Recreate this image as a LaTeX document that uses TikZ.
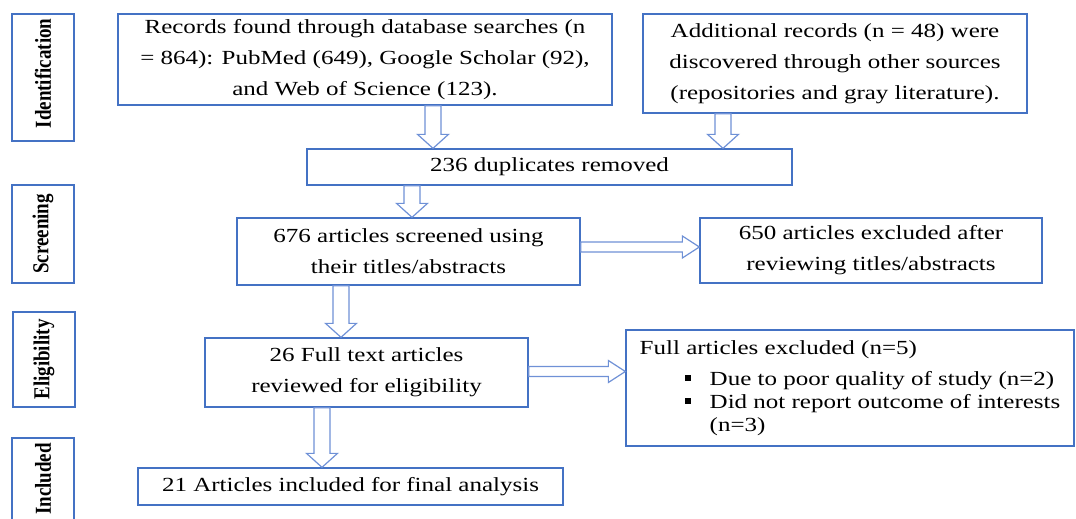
\documentclass[tikz,border=0pt]{standalone}
\usepackage{graphicx}
\usepackage{fontspec}
\setmainfont{Liberation Serif}[FakeStretch=1.25]
\newfontfamily\stagefont{Liberation Serif}
\usetikzlibrary{calc}
\definecolor{boxblue}{RGB}{68,114,196}
\definecolor{arrowblue}{RGB}{111,145,214}
\newcommand{\bul}{\rule[4pt]{6pt}{6pt}}
\tikzset{
  box/.style={draw=boxblue, line width=1.3pt, inner sep=0pt, align=center,
    font=\fontsize{20}{31}\selectfont},
  stage/.style={draw=boxblue, line width=1.3pt, inner sep=0pt, rotate=90,
    font=\stagefont\bfseries\fontsize{19}{19}\selectfont},
  blockarrow/.style n args={3}{draw=arrowblue, line width=1.2pt, to path={
    ($(\tikztostart)!#1!90:(\tikztotarget)$) --
    ($($(\tikztotarget)!#3!(\tikztostart)$)!#1!90:(\tikztotarget)$) --
    ($($(\tikztotarget)!#3!(\tikztostart)$)!#2!90:(\tikztotarget)$) --
    (\tikztotarget) --
    ($($(\tikztotarget)!#3!(\tikztostart)$)!#2!-90:(\tikztotarget)$) --
    ($($(\tikztotarget)!#3!(\tikztostart)$)!#1!-90:(\tikztotarget)$) --
    ($(\tikztostart)!#1!-90:(\tikztotarget)$) -- cycle}},
  vfat/.style={blockarrow={8pt}{15.5pt}{14pt}},
  hfat/.style={blockarrow={5pt}{11pt}{17pt}},
}
\begin{document}
\begin{tikzpicture}[x=1pt, y=-1pt]
  \useasboundingbox (0,0) rectangle (1076,519);
  % stage labels
  \node[stage, minimum width=127pt, minimum height=62pt] (ident) at (43,77.5) {\hspace{8pt}\scalebox{1}[1.2]{Identification}};
  \node[stage, minimum width=98pt, minimum height=62pt] (screen) at (43,234) {\scalebox{1}[1.2]{Screening}};
  \node[stage, minimum width=95pt, minimum height=62pt] (elig) at (44,359.5) {\scalebox{1}[1.2]{Eligibility}};
  \node[stage, minimum width=82pt, minimum height=62pt] (incd) at (43,479) {\scalebox{1}[1.2]{Included}};
  % flow boxes
  \node[box, minimum width=494pt, minimum height=91pt] (rec) at (365,59.5)
    {Records found through database searches (n\\= 864): PubMed (649), Google Scholar (92),\\and Web of Science (123).};
  \node[box, minimum width=384pt, minimum height=99pt] (add) at (835,63.5)
    {Additional records (n = 48) were\\discovered through other sources\\(repositories and gray literature).};
  \node[box, minimum width=485pt, minimum height=36pt] (dup) at (549.5,167) {236 duplicates removed};
  \node[box, minimum width=343pt, minimum height=67pt] (scr) at (408.5,251.5)
    {676 articles screened using\\their titles/abstracts};
  \node[box, minimum width=342pt, minimum height=65pt] (exc) at (871,250.5)
    {650 articles excluded after\\reviewing titles/abstracts};
  \node[box, minimum width=323pt, minimum height=69pt] (full) at (366.5,372.5)
    {26 Full text articles\\reviewed for eligibility};
  \node[box, align=left, minimum width=448pt, minimum height=116pt] (fexc) at (850,388)
    {Full articles excluded (n=5)\\
     \hspace*{45pt}\bul\hspace{19pt}Due to poor quality of study (n=2)\\[-8pt]
     \hspace*{45pt}\bul\hspace{19pt}Did not report outcome of interests\\[-8pt]
     \hspace*{70pt}(n=3)};
  \node[box, minimum width=425pt, minimum height=37pt] (incl) at (350.5,486.5)
    {21 Articles included for final analysis};
  % block arrows
  \draw[vfat] (rec.south -| 433,0) to (dup.north -| 433,0);
  \draw[vfat] (add.south -| 723,0) to (dup.north -| 723,0);
  \draw[vfat] (dup.south -| 412,0) to (scr.north -| 412,0);
  \draw[hfat] (scr.east |- 0,247) to (exc.west |- 0,247);
  \draw[vfat] (scr.south -| 341,0) to (full.north -| 341,0);
  \draw[hfat] (full.east |- 0,371.5) to (fexc.west |- 0,371.5);
  \draw[vfat] (full.south -| 322,0) to (incl.north -| 322,0);
\end{tikzpicture}
\end{document}
